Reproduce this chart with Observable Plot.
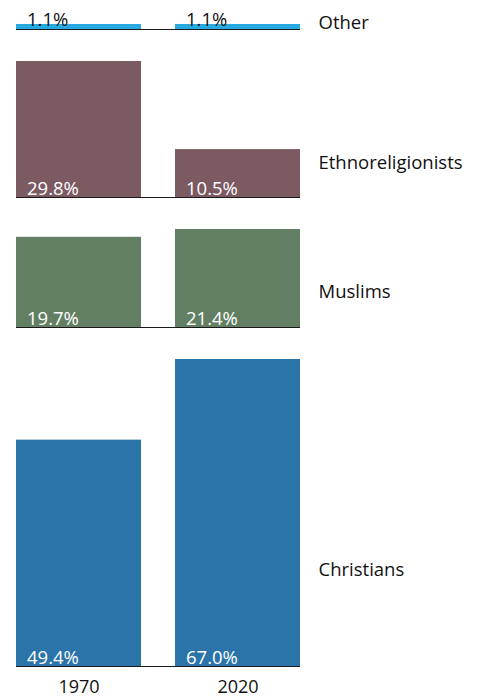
<!DOCTYPE html>
<html><head><meta charset="utf-8">
<script src="https://cdn.jsdelivr.net/npm/d3@7"></script>
<script src="https://cdn.jsdelivr.net/npm/@observablehq/plot@0.6"></script>
<style>body{margin:0;background:#fff;font-family:"Open Sans",sans-serif}#chart svg{display:block}</style>
</head><body><div id="chart"></div>
<script>
const years = ["1970", "2020"];
const categories = ["Other", "Ethnoreligionists", "Muslims", "Christians"];
const values1970 = [1.1, 29.8, 19.7, 49.4];
const values2020 = [1.1, 10.5, 21.4, 67.0];
const colors = ["#27a9e1", "#7b5a62", "#627f64", "#2a74aa"];

const pxPerPct = 4.58;
const labelRaise = [6, 34, 35, 96];
const font = '"Open Sans", sans-serif';
const root = document.getElementById("chart");

categories.forEach((cat, i) => {
  const data = years.map((y, j) => ({year: y, value: j === 0 ? values1970[i] : values2020[i]}));
  const max = d3.max(data, d => d.value);
  const last = i === categories.length - 1;
  const mt = i === 0 ? 24 : 32;
  const mb = last ? 33 : 0;
  const small = max < 3;
  const chart = Plot.plot({
    width: 478,
    height: Math.round(mt + max * pxPerPct + mb),
    marginTop: mt,
    marginBottom: mb,
    marginLeft: 16,
    marginRight: 178,
    style: {fontFamily: font, fontSize: "18px", color: "#111", background: "#fff", overflow: "visible"},
    x: {domain: years, paddingInner: 0.215, paddingOuter: 0, axis: last ? "bottom" : null, tickSize: 0, tickPadding: 14, label: null, fontSize: 18},
    y: {domain: [0, max], axis: null},
    marks: [
      Plot.barY(data, {x: "year", y: "value", fill: colors[i]}),
      Plot.ruleY([0], {stroke: "#1a1a1a", strokeWidth: 1.2}),
      Plot.text(data, {
        x: "year",
        y: small ? "value" : 0,
        text: d => d.value.toFixed(1) + "%",
        textAnchor: "start",
        lineAnchor: "bottom",
        dx: -52,
        dy: small ? 1 : -3,
        fill: small ? "#111" : "#fff",
        fontSize: 18.5
      }),
      Plot.text([cat], {
        frameAnchor: "bottom-right",
        textAnchor: "start",
        lineAnchor: "middle",
        dx: 18,
        dy: -labelRaise[i],
        fill: "#111",
        fontSize: 18.5
      })
    ]
  });
  root.appendChild(chart);
});
</script>
</body></html>
